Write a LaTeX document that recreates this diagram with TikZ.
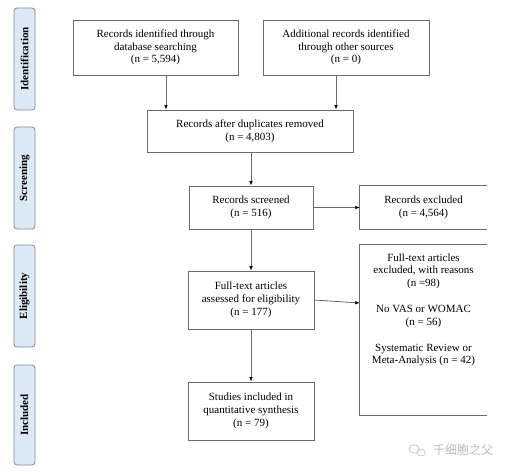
\documentclass[tikz,border=0pt]{standalone}
\usepackage{fontspec}
\setmainfont{Liberation Serif}
\newfontfamily\cjk{Noto Sans CJK SC}
\usetikzlibrary{arrows.meta,calc}
\definecolor{boxgray}{HTML}{6A6A6A}
\definecolor{tabgray}{HTML}{7F8A94}
\definecolor{tabfill}{HTML}{DCEAF7}
\begin{document}
\begin{tikzpicture}[x=1pt,y=-1pt,
  box/.style={draw=boxgray, line width=0.8pt, align=center, inner sep=0pt,
    font=\fontsize{11}{12.8}\selectfont},
  openbox/.style={align=center, inner sep=0pt, font=\fontsize{11}{12.8}\selectfont},
  tab/.style={draw=tabgray, fill=tabfill, rounded corners=3pt, line width=0.8pt,
    inner sep=0pt, minimum height=21pt, rotate=90,
    font=\bfseries\fontsize{11}{12}\selectfont},
  arr/.style={-{Latex[length=4.5pt,width=3.6pt,black]}, draw=boxgray, line width=0.8pt},
  edge/.style={draw=boxgray, line width=0.8pt}]
\useasboundingbox (0,0) rectangle (510,473);
% side tabs
\node[tab, minimum width=102pt] (t1) at (24.5,59) {Identification};
\node[tab, minimum width=102pt] (t2) at (24.5,178) {Screening};
\node[tab, minimum width=102pt] (t3) at (24.5,296) {Eligibility};
\node[tab, minimum width=100pt] (t4) at (24.5,415) {Included};
% boxes
\node[box, minimum width=165pt, minimum height=55pt] (b1) at (155.5,47.5)
  {Records identified through\\database searching\\(n = 5,594)};
\node[box, minimum width=166pt, minimum height=55pt] (b2) at (346,47.5)
  {Additional records identified\\through other sources\\(n = 0)};
\node[box, minimum width=206pt, minimum height=42pt] (b3) at (250,131)
  {Records after duplicates removed\\(n = 4,803)};
\node[box, minimum width=124pt, minimum height=43pt] (b4) at (251,207.5)
  {Records screened\\(n = 516)};
\node[openbox, minimum width=127pt, minimum height=43pt] (b5) at (423.5,207.5)
  {Records excluded\\(n = 4,564)};
\draw[edge] (b5.north east) -- (b5.north west) -- (b5.south west) -- (b5.south east);
\node[box, minimum width=126pt, minimum height=58pt] (b6) at (251,300)
  {Full-text articles\\assessed for eligibility\\(n = 177)};
\node[openbox, minimum width=127pt, minimum height=170pt] (b7) at (423.5,330) {};
\draw[edge] (b7.north east) -- (b7.north west) -- (b7.south west) -- (b7.south east);
\node[openbox, anchor=north] (b7t) at ([yshift=-8.5pt]b7.north)
  {Full-text articles\\excluded, with reasons\\(n =98)\\[13pt]No VAS or WOMAC\\(n = 56)\\[13pt]Systematic Review or\\Meta-Analysis (n = 42)};
\node[box, minimum width=126pt, minimum height=58pt] (b8) at (251,411)
  {Studies included in\\quantitative synthesis\\(n = 79)};
% connectors
\draw[arr] ([xshift=10.5pt]b1.south) -- ([xshift=10.5pt]b1.south |- b3.north);
\draw[arr] ([xshift=-10pt]b2.south) -- ([xshift=-10pt]b2.south |- b3.north);
\draw[arr] (b4.north |- b3.south) -- (b4.north);
\draw[arr] (b4.east) -- (b5.west);
\draw[arr] (b4.south) -- (b6.north);
\draw[arr] (b6.east) -- ([yshift=27pt]b7.west);
\draw[arr] (b6.south) -- (b8.north);
% watermark
\node[font=\cjk\fontsize{12}{12}\selectfont, text=gray!55] (wm) at (463,450) {千细胞之父};
\draw[gray!45, line width=0.7pt] (414,449) circle[x radius=5pt, y radius=4.2pt];
\draw[gray!45, line width=0.7pt] (421,452.5) circle[x radius=4.2pt, y radius=3.5pt];
\end{tikzpicture}
\end{document}
